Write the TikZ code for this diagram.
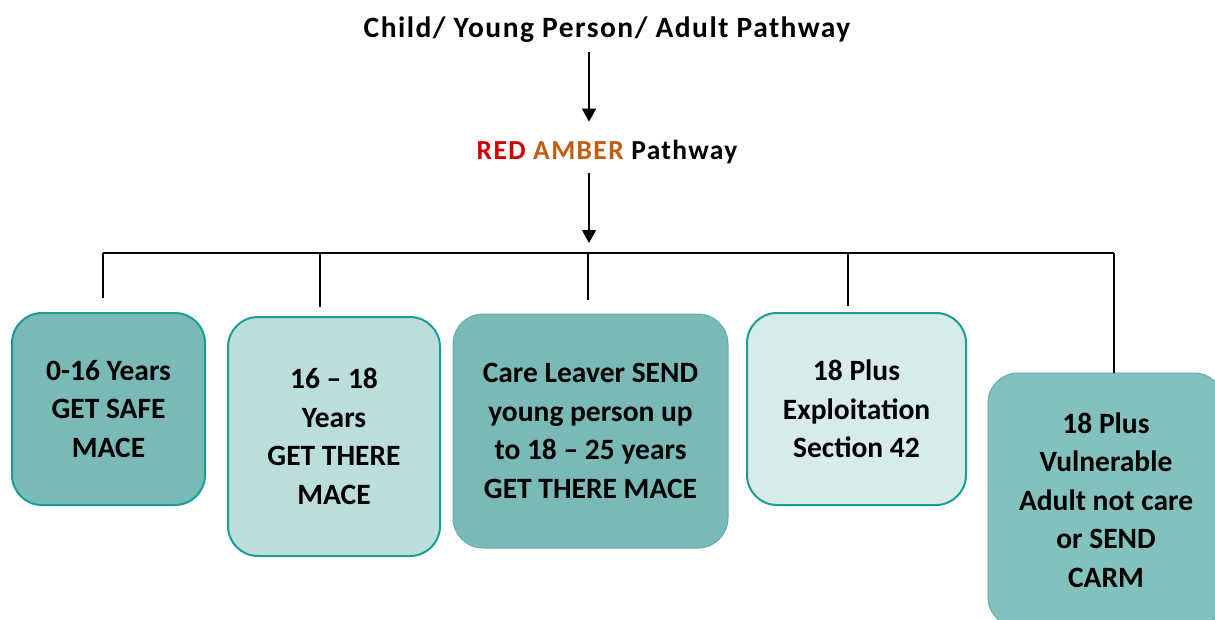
\documentclass[tikz,border=0pt]{standalone}
\usepackage{fontspec}
\setmainfont{Carlito}
\newfontfamily\headfont[LetterSpace=5]{Carlito}
\newfontfamily\boxfont{Carlito}
\usetikzlibrary{arrows.meta}
\usepackage{xcolor}
\definecolor{tealedge}{HTML}{1A9D97}
\definecolor{tealsoft}{HTML}{5FAFAA}
\definecolor{tealdark}{HTML}{79BAB6}
\definecolor{teallight}{HTML}{BBDEDC}
\definecolor{tealpale}{HTML}{D7EBEA}
\definecolor{tealmid}{HTML}{83C1BD}
\definecolor{redtext}{HTML}{D00000}
\definecolor{ambertext}{HTML}{C55A11}

\tikzset{
  agebox/.style={draw=tealedge, line width=2pt, rounded corners=30pt,
    align=center, inner sep=0pt,
    font=\boxfont\bfseries\fontsize{29.5}{38.5}\selectfont},
  bus/.style={line width=2.4pt},
  down/.style={-{Triangle[width=14pt,length=13pt]}, line width=1.4pt}
}

\begin{document}
\begin{tikzpicture}[x=1pt,y=-1pt]
  \useasboundingbox (0,0) rectangle (1215,619);
  % headings
  \node[font=\headfont\bfseries\fontsize{29.5}{32}\selectfont] (title) at (607,30) {Child/ Young Person/ Adult Pathway};
  \node[font=\headfont\bfseries\fontsize{27.5}{30}\selectfont] (rag) at (607,152) {\textcolor{redtext}{RED} \textcolor{ambertext}{AMBER} Pathway};
  \coordinate (split) at (589,243);
  \draw[down, shorten <=6pt, shorten >=15pt] (title.south -| split) -- (rag.north -| split);
  \draw[down, shorten <=6pt] (rag.south -| split) -- (split);

  % pathway boxes
  \node[agebox, fill=tealdark, minimum width=193pt, minimum height=192pt] (young) at (108.5,409) {0-16 Years\\GET SAFE\\MACE};
  \node[agebox, fill=teallight, minimum width=212pt, minimum height=239pt] (teen) at (334,436.5) {16 – 18\\Years\\GET THERE\\MACE};
  \node[agebox, draw=tealsoft, line width=1pt, fill=tealdark, minimum width=275pt, minimum height=234pt] (leaver) at (590.5,431) {Care Leaver SEND\\young person up\\to 18 – 25 years\\GET THERE MACE};
  \node[agebox, fill=tealpale, minimum width=219pt, minimum height=192pt] (exploit) at (856.5,409) {18 Plus\\Exploitation\\Section 42};
  \node[agebox, draw=tealsoft, line width=1pt, fill=tealmid, minimum width=236pt, minimum height=254pt] (vulnerable) at (1106,500) {18 Plus\\Vulnerable\\Adult not care\\or SEND\\CARM};

  % branch line and drops
  \coordinate (b1) at (103,253);
  \coordinate (b2) at (320,253);
  \coordinate (b3) at (588,253);
  \coordinate (b4) at (848,253);
  \coordinate (b5) at (1114,253);
  \coordinate (e1) at (103,298);
  \coordinate (e2) at (320,307);
  \coordinate (e3) at (588,300);
  \coordinate (e4) at (848,306);
  \draw[bus] (b1) -- (b5);
  \draw[bus] (b1) -- (e1);
  \draw[bus] (b2) -- (e2);
  \draw[bus] (b3) -- (e3);
  \draw[bus] (b4) -- (e4);
  \draw[bus] (b5) -- (vulnerable.north -| b5);
\end{tikzpicture}
\end{document}
